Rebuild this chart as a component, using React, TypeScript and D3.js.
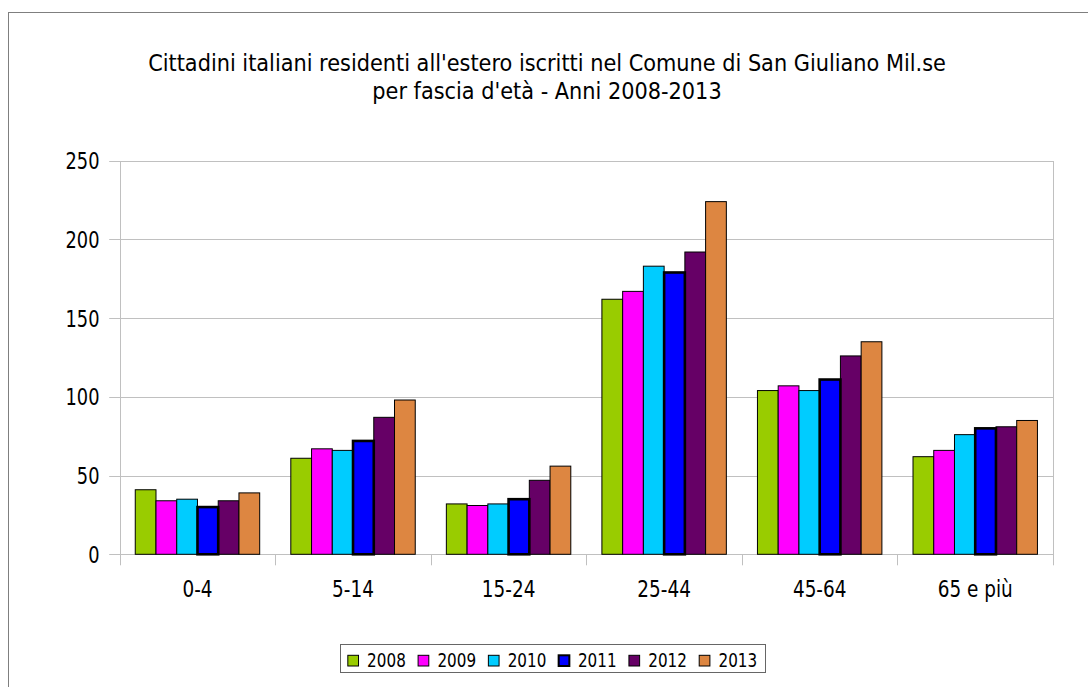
import React, { useEffect, useRef } from "react";
import * as d3 from "d3";

const categories = ["0-4", "5-14", "15-24", "25-44", "45-64", "65 e più"];
const years = ["2008", "2009", "2010", "2011", "2012", "2013"];
const v2008 = [41, 61, 32, 162, 104, 62];
const v2009 = [34, 67, 31, 167, 107, 66];
const v2010 = [35, 66, 32, 183, 104, 76];
const v2011 = [30, 72, 35, 179, 111, 80];
const v2012 = [34, 87, 47, 192, 126, 81];
const v2013 = [39, 98, 56, 224, 135, 85];
const seriesValues = [v2008, v2009, v2010, v2011, v2012, v2013];
const colors = ["#99cc00", "#ff00ff", "#00ccff", "#0000ff", "#660066", "#dd8641"];
const yTicks = [0, 50, 100, 150, 200, 250];
const titleLines = [
  "Cittadini italiani residenti all'estero iscritti nel Comune di San Giuliano Mil.se",
  "per fascia d'età - Anni 2008-2013",
];

const FONT = "'DejaVu Sans Condensed', 'DejaVu Sans', sans-serif";

export default function App() {
  const ref = useRef<SVGSVGElement | null>(null);

  useEffect(() => {
    const svg = d3.select(ref.current);
    svg.selectAll("*").remove();

    const W = 1088, H = 687;
    const left = 119.7, right = 1053, top = 160.7, bottom = 554.3;

    svg.append("rect").attr("width", W).attr("height", H).attr("fill", "#fff");
    svg.append("rect")
      .attr("x", 8.5).attr("y", 12.5).attr("width", 1200).attr("height", 800)
      .attr("fill", "#fff").attr("stroke", "#7f7f7f").attr("stroke-width", 1);

    const x = d3.scaleBand<string>().domain(categories).range([left, right])
      .paddingInner(0.2).paddingOuter(0.1);
    const xs = d3.scaleBand<string>().domain(years).range([0, x.bandwidth()]).padding(0);
    const y = d3.scaleLinear().domain([0, 250]).range([bottom, top]);

    const addText = (parent: any, tx: number, ty: number, str: string, size: number, anchor: string, sy = 1.12) => {
      const g = parent.append("g").attr("transform", `translate(${tx},${ty}) scale(1,${sy})`);
      return g.append("text")
        .attr("text-anchor", anchor)
        .attr("dy", "0.36em")
        .style("font-family", FONT)
        .style("font-stretch", "condensed")
        .attr("font-size", size)
        .attr("fill", "#000")
        .text(str);
    };

    // title
    titleLines.forEach((t, i) => addText(svg, 547, 62 + i * 28.5, t, 23.2, "middle", 1.02));

    // gridlines
    const grid = svg.append("g");
    yTicks.forEach((t) => {
      grid.append("line")
        .attr("x1", left - 10.5).attr("x2", right)
        .attr("y1", Math.round(y(t)) + 0.5).attr("y2", Math.round(y(t)) + 0.5)
        .attr("stroke", "#c0c0c0").attr("stroke-width", 1);
    });
    grid.append("line").attr("x1", Math.round(left) + 0.5).attr("x2", Math.round(left) + 0.5)
      .attr("y1", Math.round(top)).attr("y2", bottom + 11).attr("stroke", "#c0c0c0");
    grid.append("line").attr("x1", Math.round(right) + 0.5).attr("x2", Math.round(right) + 0.5)
      .attr("y1", Math.round(top)).attr("y2", bottom + 11).attr("stroke", "#c0c0c0");
    categories.forEach((c, i) => {
      if (i === 0) return;
      const bx = x(c)! - (x.step() - x.bandwidth()) / 2;
      grid.append("line").attr("x1", Math.round(bx) + 0.5).attr("x2", Math.round(bx) + 0.5)
        .attr("y1", bottom).attr("y2", bottom + 11).attr("stroke", "#c0c0c0");
    });

    // y labels
    yTicks.forEach((t) => addText(svg, 99.5, y(t) + 0.5, String(t), 19.8, "end"));
    // x labels
    categories.forEach((c) => addText(svg, x(c)! + x.bandwidth() / 2, 589, c, 20.5, "middle"));

    // bars
    const bars = svg.append("g");
    const order = [0, 1, 2, 4, 5, 3];
    order.forEach((si) => {
      const yr = years[si];
      const thick = yr === "2011";
      categories.forEach((c, ci) => {
        const v = seriesValues[si][ci];
        bars.append("rect")
          .attr("x", x(c)! + xs(yr)!).attr("y", y(v))
          .attr("width", xs.bandwidth()).attr("height", bottom - y(v))
          .attr("fill", colors[si])
          .attr("stroke", "#000")
          .attr("stroke-width", thick ? 2.6 : 1);
      });
    });

    // legend
    const lg = svg.append("g");
    const sq = 10.7, gapSq = 8.6, gapItem = 12.3, pad = 8;
    const lfs = 16.9;
    const measures: number[] = [];
    const tmp = lg.append("g");
    years.forEach((yr) => {
      const t = addText(tmp, 0, 0, yr, lfs, "start");
      measures.push((t.node() as SVGTextElement).getComputedTextLength());
    });
    tmp.remove();
    let total = pad;
    years.forEach((_, i) => {
      total += sq + gapSq + measures[i] + (i < years.length - 1 ? gapItem : 0);
    });
    total += pad;
    const cx = 552.5;
    const lx0 = cx - total / 2;
    const ly0 = 644, lh = 28;
    lg.append("rect").attr("x", Math.round(lx0) + 0.5).attr("y", ly0 + 0.5)
      .attr("width", Math.round(total)).attr("height", lh)
      .attr("fill", "#fff").attr("stroke", "#666");
    let cur = lx0 + pad;
    years.forEach((yr, i) => {
      lg.append("rect").attr("x", cur).attr("y", 655.3)
        .attr("width", sq).attr("height", sq)
        .attr("fill", colors[i]).attr("stroke", "#000")
        .attr("stroke-width", yr === "2011" ? 2 : 1);
      addText(lg, cur + sq + gapSq, 660.5, yr, lfs, "start");
      cur += sq + gapSq + measures[i] + gapItem;
    });
  }, []);

  return (
    <svg
      ref={ref}
      width={1088}
      height={687}
      style={{ position: "absolute", left: 0, top: 0, display: "block" }}
    />
  );
}
